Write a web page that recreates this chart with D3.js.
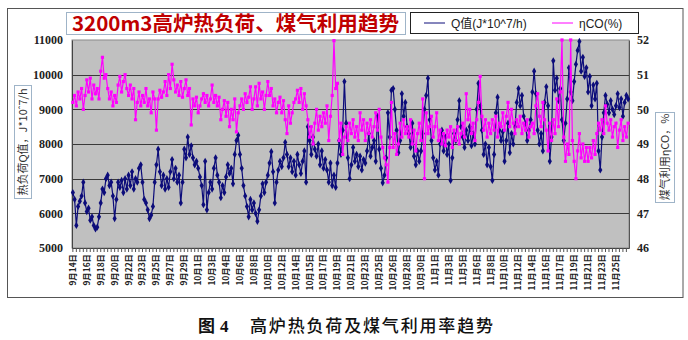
<!DOCTYPE html>
<html><head><meta charset="utf-8">
<script src="https://cdn.jsdelivr.net/npm/d3@7/dist/d3.min.js"></script>
<style>body{margin:0;background:#fff}svg{display:block}</style>
</head><body><svg id="c" width="688" height="340"></svg>
<script>
const dateLabels = ["9月14日","9月16日","9月18日","9月20日","9月22日","9月23日","9月25日","9月27日","9月29日",
 "10月1日","10月3日","10月4日","10月6日","10月8日","10月10日","10月12日","10月14日","10月15日","10月17日","10月19日",
 "10月21日","10月23日","10月25日","10月26日","10月28日","10月30日",
 "11月1日","11月3日","11月5日","11月6日","11月8日","11月10日","11月12日","11月14日","11月16日","11月17日","11月19日","11月21日","11月23日","11月25日"];

const qValues = [
 6600,6400,5650,6200,6350,6500,6900,6300,
 6050,6150,5800,5900,5650,5550,5600,5900,
 6300,6700,6600,7000,7100,6800,6900,6500,
 5850,6400,6900,6750,6950,6600,7000,6700,
 7100,6800,7200,6700,7000,6900,7300,7400,
 6900,6400,6300,6100,5850,5950,6200,6900,
 7400,7850,7200,6800,7100,6700,7000,6750,
 7200,7550,7000,7300,6900,7100,6300,6900,
 7850,7600,8200,7700,7950,7600,7400,7500,
 7300,7050,6800,6250,7500,6100,6600,6900,
 6700,7300,7600,7100,6900,6450,6800,6600,
 7050,7400,7150,7300,6850,7700,8100,8250,
 7700,7300,6800,6500,6200,5900,6400,6100,
 6300,6000,5770,6100,6500,6850,6600,6900,
 7100,7450,7780,7200,6300,6900,7250,7500,
 7350,7600,8050,7700,7350,7600,7200,7500,
 7100,7700,7400,7150,7500,7800,6900,8500,
 8100,7700,8200,7850,7650,8000,7400,7800,
 7300,7550,7250,6900,7450,6800,7100,6750,
 7450,8100,7700,8400,9800,8600,7600,7000,
 7400,7900,7500,7700,7350,7650,7250,7550,
 7450,7800,8300,7650,7900,8100,7500,8800,
 7850,7300,6880,7100,7600,8900,8200,9550,
 9600,9000,8400,7750,8100,9450,8800,9200,
 8500,8300,7900,8600,7650,7400,7800,7500,
 7800,8300,9000,9400,9900,8700,8100,7600,
 7250,7500,7100,8000,8400,7800,8200,7700,
 8000,6950,7600,8300,8100,8700,9250,8500,
 8200,7900,8400,8100,8500,7950,8300,8000,
 9000,9750,9100,8400,7700,8000,7400,7900,
 7350,6950,7700,8900,9350,8400,8100,8350,
 7500,8100,8600,7750,8300,8000,8500,9200,
 9600,9100,9400,8800,8600,8100,8400,8700,
 9500,10100,9450,8400,8000,8300,7800,9200,
 9650,9100,7500,8200,10400,9550,9900,9250,
 9600,8700,8100,8600,9300,10200,9500,9250,
 9800,10300,10700,10960,10100,10500,9950,10200,
 9500,9950,9100,9700,9300,9750,7800,7250,
 8200,8900,9400,9150,8900,9250,9000,8850,
 9100,9450,9050,9300,8800,9200,9400,9300
];

const etaValues = [
 50.2,50.4,50.1,50.5,50.3,50.6,50.0,50.4,
 50.85,50.5,50.9,50.3,50.7,50.45,50.6,50.3,
 51.1,51.5,50.9,51.0,50.6,50.3,50.5,50.1,
 50.4,50.2,50.7,50.95,50.5,50.8,51.0,50.6,
 50.4,50.7,50.3,50.6,49.7,50.2,50.5,50.1,
 50.4,50.2,50.6,50.1,50.3,49.9,50.5,50.3,
 49.4,50.3,50.55,50.35,50.5,50.8,50.4,51.0,
 50.6,51.3,50.85,50.5,50.7,50.4,50.8,50.35,
 50.6,50.85,50.4,50.6,49.55,50.3,50.1,50.35,
 49.9,50.1,50.3,50.45,50.2,50.4,50.1,50.3,
 50.7,50.2,50.4,50.1,50.35,49.7,50.0,50.25,
 49.8,50.2,49.5,50.0,49.7,50.3,49.35,49.9,
 50.1,50.3,50.0,50.45,50.2,50.35,50.65,50.0,
 50.3,50.65,50.1,50.75,50.3,50.5,50.0,50.4,
 50.8,50.4,50.6,50.1,50.3,49.9,50.2,50.35,
 49.9,50.25,49.7,49.3,50.1,49.6,49.9,50.2,
 50.3,50.55,50.2,50.6,50.0,50.45,50.1,49.7,
 49.2,49.5,49.0,49.6,50.0,49.4,49.8,49.5,
 49.9,49.6,50.1,49.1,49.8,50.4,51.98,50.6,
 50.75,49.1,49.6,48.7,49.2,49.5,49.1,49.6,
 49.3,49.7,49.2,49.5,49.1,49.9,49.4,49.7,
 49.1,49.6,49.3,49.7,49.2,49.5,49.9,49.4,
 50.0,49.2,48.9,48.6,48.4,47.9,48.9,50.2,
 48.9,49.3,48.7,49.0,49.6,49.2,49.7,49.3,
 49.5,49.2,49.7,49.0,49.4,48.8,49.3,49.6,
 49.1,50.3,48.0,49.9,49.3,49.5,49.8,49.2,
 49.5,49.9,49.1,49.4,49.0,49.3,48.95,49.4,
 49.2,49.5,48.9,49.4,49.1,49.5,49.0,49.3,
 49.6,49.2,50.45,49.7,50.0,49.3,49.6,49.1,
 49.7,50.2,50.95,49.8,49.4,49.7,49.2,49.6,
 49.3,49.7,49.4,49.8,49.2,49.6,49.5,49.9,
 49.4,49.8,50.2,49.5,50.0,49.6,49.3,49.7,
 49.5,49.8,49.3,49.6,49.4,49.7,49.2,49.5,
 49.6,49.3,50.1,50.45,49.8,49.5,50.2,49.7,
 49.4,48.8,49.6,49.1,49.7,49.3,50.3,49.5,
 50.5,52.0,49.2,48.5,49.0,48.7,52.0,49.1,
 48.5,48.0,48.8,49.3,48.6,49.0,48.5,48.9,
 48.5,48.9,48.6,49.1,48.7,49.3,49.6,49.4,
 49.7,49.3,50.1,49.6,49.4,49.7,49.2,49.5,
 49.6,48.9,49.4,49.7,49.1,49.5,49.2,49.6
];

const leftTicks = [5000,6000,7000,8000,9000,10000,11000];
const rightTicks = [46,47,48,49,50,51,52];
const seriesNames = ["Q值(J*10^7/h)","ηCO(%)"];
const titleText = "3200m3高炉热负荷、煤气利用趋势";
const leftTitle = "热负荷Q值，J*10ˆ7/h";
const rightTitle = "煤气利用ηCO，%";

const svg = d3.select("#c");
const W = 688, H = 340;
const L = 72, R = 629, T = 40, B = 248;
const N = qValues.length;
const labelEvery = N / dateLabels.length;

svg.append("rect").attr("width", W).attr("height", H).attr("fill", "#fff");
svg.append("rect").attr("x", 7.5).attr("y", 8.5).attr("width", 675.5).attr("height", 289)
  .attr("fill", "#fff").attr("stroke", "#555").attr("stroke-width", 1);

const x = d3.scaleBand().domain(d3.range(N)).range([L, R]).padding(0);
const bw = x.bandwidth();
const cx = i => x(i) + bw / 2;
const yL = d3.scaleLinear().domain([5000, 11000]).range([B, T]);
const yR = d3.scaleLinear().domain([46, 52]).range([B, T]);

// plot background
svg.append("rect").attr("x", L).attr("y", T).attr("width", R - L).attr("height", B - T)
  .attr("fill", "#c0c0c0").attr("stroke", "#8a8a8a").attr("stroke-width", 1);

// gridlines
svg.append("g").selectAll("line").data(leftTicks.slice(1, -1)).join("line")
  .attr("x1", L).attr("x2", R).attr("y1", d => Math.round(yL(d)) + 0.5).attr("y2", d => Math.round(yL(d)) + 0.5)
  .attr("stroke", "#3a3a3a").attr("stroke-width", 1);

// left axis
const gL = svg.append("g").attr("transform", `translate(${L},0)`)
  .call(d3.axisLeft(yL).tickValues(leftTicks).tickSize(0).tickPadding(9).tickFormat(d3.format("d")));
gL.select(".domain").attr("stroke", "#444");
gL.selectAll("text").attr("font-family", "'Liberation Serif', serif").attr("font-weight", "bold")
  .attr("font-size", 12).attr("fill", "#222");

// right axis
const gR = svg.append("g").attr("transform", `translate(${R},0)`)
  .call(d3.axisRight(yR).tickValues(rightTicks).tickSize(0).tickPadding(8).tickFormat(d3.format("d")));
gR.select(".domain").attr("stroke", "#555");
gR.selectAll("text").attr("font-family", "'Liberation Serif', serif").attr("font-weight", "bold")
  .attr("font-size", 12).attr("fill", "#222");

// bottom axis
const gB = svg.append("g").attr("transform", `translate(0,${B})`)
  .call(d3.axisBottom(x).tickValues(d3.range(0, N, 2)).tickSize(4).tickSizeOuter(0)
    .tickFormat(i => i % labelEvery === 0 ? dateLabels[i / labelEvery] : ""));
gB.select(".domain").attr("stroke", "#444");
gB.selectAll(".tick line").attr("stroke", "#555");
gB.selectAll("text")
  .attr("font-family", "'Noto Sans CJK SC', sans-serif").attr("font-size", 8.4).attr("font-weight", "bold")
  .attr("fill", "#222")
  .attr("transform", "rotate(-90)")
  .attr("text-anchor", "end").attr("dy", "0.35em").attr("x", -6).attr("y", 0);

// series Q
const lineQ = d3.line().x((d, i) => cx(i)).y(d => yL(d));
svg.append("path").datum(qValues).attr("d", lineQ).attr("fill", "none")
  .attr("stroke", "#0c0c7a").attr("stroke-width", 1.2);
const diamond = d3.symbol(d3.symbolDiamond, 15);
svg.append("g").selectAll("path").data(qValues).join("path")
  .attr("transform", (d, i) => `translate(${cx(i)},${yL(d)})`).attr("d", diamond)
  .attr("fill", "#0c0c7a");

// series eta
const lineE = d3.line().x((d, i) => cx(i)).y(d => yR(d));
svg.append("path").datum(etaValues).attr("d", lineE).attr("fill", "none")
  .attr("stroke", "#ff00ff").attr("stroke-width", 1.2);
const square = d3.symbol(d3.symbolSquare, 10);
svg.append("g").selectAll("path").data(etaValues).join("path")
  .attr("transform", (d, i) => `translate(${cx(i)},${yR(d)})`).attr("d", square)
  .attr("fill", "#ff00ff");

// title box
svg.append("rect").attr("x", 66.5).attr("y", 12.5).attr("width", 339).attr("height", 22)
  .attr("fill", "#fff").attr("stroke", "#9fb4c8");
svg.append("text").attr("x", 72).attr("y", 31).text(titleText)
  .attr("font-family", "'Noto Sans CJK SC', sans-serif").attr("font-weight", "bold").attr("font-size", 20)
  .attr("fill", "#c00000").attr("textLength", 327).attr("lengthAdjust", "spacingAndGlyphs");

// legend
svg.append("rect").attr("x", 410.5).attr("y", 12.5).attr("width", 228).attr("height", 21)
  .attr("fill", "#fff").attr("stroke", "#222");
const legendItems = [
  {name: seriesNames[0], color: "#0c0c7a", sym: diamond, x0: 424, tx: 451},
  {name: seriesNames[1], color: "#ff00ff", sym: square, x0: 552, tx: 579}
];
const lg = svg.append("g").selectAll("g").data(legendItems).join("g");
lg.append("line").attr("x1", d => d.x0).attr("x2", d => d.x0 + 21).attr("y1", 23).attr("y2", 23)
  .attr("stroke", d => d.color).attr("stroke-width", 1);
lg.append("path").attr("transform", d => `translate(${d.x0 + 10.5},23)`).attr("d", d => d.sym)
  .attr("fill", d => d.color);
lg.append("text").attr("x", d => d.tx).attr("y", 27.5).text(d => d.name)
  .attr("font-family", "'Liberation Sans', 'Noto Sans CJK SC', sans-serif").attr("font-size", 12).attr("fill", "#222");

// axis titles
svg.append("rect").attr("x", 14.5).attr("y", 85.5).attr("width", 17).attr("height", 113)
  .attr("fill", "#fff").attr("stroke", "#9fb4c8");
svg.append("text").attr("transform", "translate(23,142) rotate(-90)").attr("text-anchor", "middle")
  .attr("dy", "0.35em").text(leftTitle)
  .attr("font-family", "'Noto Sans CJK SC', sans-serif").attr("font-size", 11).attr("fill", "#333");
svg.append("rect").attr("x", 655.5).attr("y", 112.5).attr("width", 19).attr("height", 90)
  .attr("fill", "#fff").attr("stroke", "#9fb4c8");
svg.append("text").attr("transform", "translate(665,157) rotate(-90)").attr("text-anchor", "middle")
  .attr("dy", "0.35em").text(rightTitle)
  .attr("font-family", "'Noto Sans CJK SC', sans-serif").attr("font-size", 11).attr("fill", "#333");

// caption
const cap = svg.append("g").attr("font-size", 17).attr("fill", "#111");
cap.append("text").attr("x", 198).attr("y", 332).text("图")
  .attr("font-family", "'Noto Sans CJK SC', sans-serif").attr("font-weight", "bold");
cap.append("text").attr("x", 220).attr("y", 332).text("4")
  .attr("font-family", "'Liberation Serif', serif").attr("font-weight", "bold");
cap.append("text").attr("x", 250).attr("y", 332).text("高炉热负荷及煤气利用率趋势")
  .attr("font-family", "'Noto Sans CJK SC', sans-serif").attr("font-weight", 500)
  .attr("textLength", 243).attr("lengthAdjust", "spacing");
</script>
</body></html>
